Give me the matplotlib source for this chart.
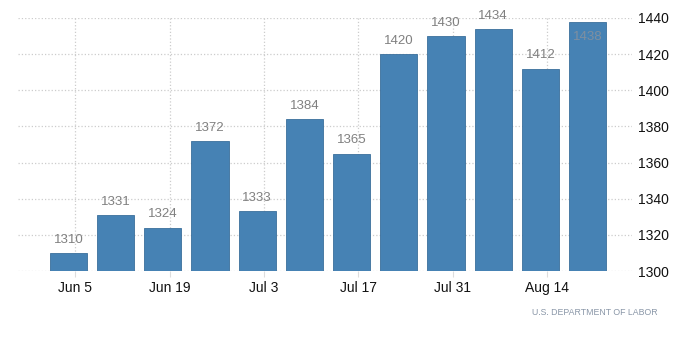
import matplotlib
matplotlib.use("Agg")
import matplotlib.pyplot as plt
import matplotlib.dates as mdates
import datetime as dt

plt.rcParams["font.family"] = ["Liberation Sans", "DejaVu Sans"]

# weekly values (thousands)
weeks = [dt.date(2016, 6, 4) + dt.timedelta(days=7 * i) for i in range(12)]
values = [1310, 1331, 1324, 1372, 1333, 1384, 1365, 1420, 1430, 1434, 1412, 1438]
tick_dates = [dt.date(2016, 6, 5), dt.date(2016, 6, 19), dt.date(2016, 7, 3),
              dt.date(2016, 7, 17), dt.date(2016, 7, 31), dt.date(2016, 8, 14)]
tick_labels = ["Jun 5", "Jun 19", "Jul 3", "Jul 17", "Jul 31", "Aug 14"]

fig = plt.figure(figsize=(7, 3.59), dpi=100)
ax = fig.add_axes([0.026, 0.245, 0.877, 0.705])

ax.bar(weeks, values, width=5.5, color="#4682b4", edgecolor="#3a6f9c", linewidth=0.6,
       zorder=3)

for i, (d, v) in enumerate(zip(weeks, values)):
    if i == len(values) - 1:
        ax.annotate(str(v), (mdates.date2num(d), v), xytext=(0, -11), textcoords="offset points",
                    ha="center", va="center", fontsize=9.5, color="#7f8fa0", zorder=4)
    else:
        ax.annotate(str(v), (mdates.date2num(d), v), xytext=(0, 9.5), textcoords="offset points",
                    ha="center", va="center", fontsize=9.5, color="#808080", zorder=4)

ax.set_ylim(1300, 1440)
ax.set_xlim(mdates.date2num(weeks[0]) - 7.45, mdates.date2num(weeks[-1]) + 6.6)
ax.set_yticks(range(1300, 1441, 20))
ax.set_xticks([mdates.date2num(d) for d in tick_dates])
ax.set_xticklabels(tick_labels)

ax.yaxis.tick_right()
ax.tick_params(axis="y", length=0, pad=4, labelsize=10, colors="#111111")
ax.tick_params(axis="x", length=4, color="#dddddd", pad=3, labelsize=10, labelcolor="#111111")

for s in ax.spines.values():
    s.set_visible(False)
ax.grid(True, linestyle=":", color="#cccccc", linewidth=0.9, zorder=0)
ax.set_axisbelow(True)

fig.text(0.94, 0.13, "U.S. DEPARTMENT OF LABOR", ha="right", va="center",
         fontsize=6.3, color="#8a97a8")

fig.savefig("out.png", dpi=100)
